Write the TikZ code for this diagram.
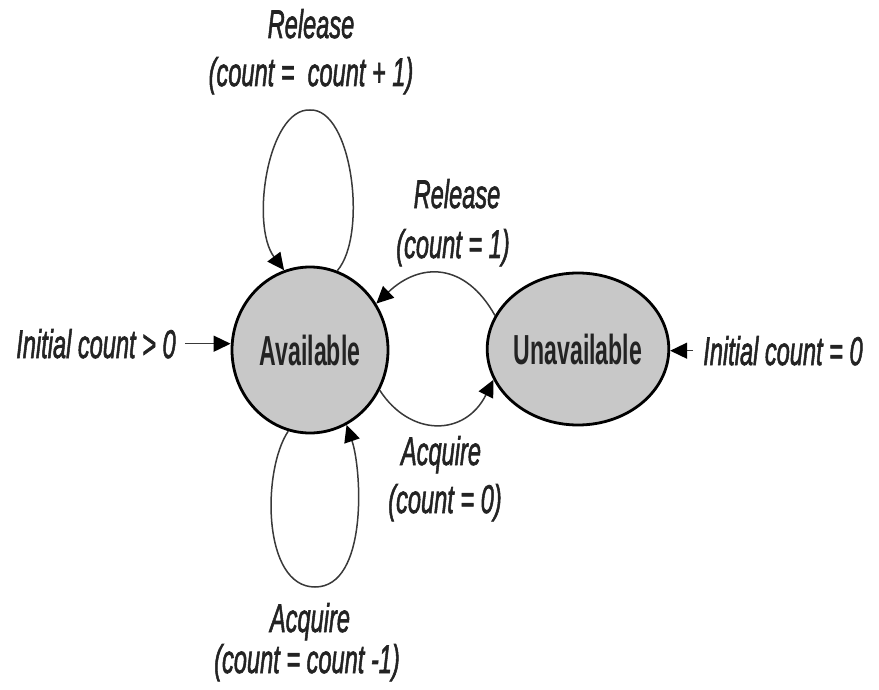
\documentclass[tikz,border=0pt]{standalone}
\usepackage{fontspec}
\setmainfont{Liberation Sans}
\newfontfamily\lblfont[FakeBold=2]{Liberation Sans}
\usetikzlibrary{shapes.geometric,arrows.meta}
\newcommand{\lsq}[1]{\scalebox{0.59}[1]{#1}}
\newcommand{\ssq}[1]{\scalebox{0.55}[1]{#1}}
\definecolor{stfill}{RGB}{200,200,200}
\definecolor{ink}{RGB}{35,35,35}
\begin{document}
\begin{tikzpicture}[x=1pt,y=-1pt,
  state/.style={ellipse, draw=black, line width=2.8pt, fill=stfill, inner sep=0pt,
    font=\fontsize{42}{48}\selectfont\bfseries, text=ink},
  lbl/.style={font=\fontsize{40}{48}\lblfont\itshape, text=ink, inner sep=0pt, anchor=base},
  arr/.style={draw=ink!90, line width=1.5pt, -{Triangle[length=17pt,width=16pt,color=black]}}]
\useasboundingbox (0,0) rectangle (879,690);
\node[state, minimum width=156pt, minimum height=166pt] (av) at (310,350) {\ssq{Available}};
\node[state, minimum width=160pt, minimum height=152pt] (un) at (578,349) {\ssq{Unavailable}};
\node[lbl] (tr1) at (311,38) {\lsq{Release}};
\node[lbl] (tr2) at (311,86) {\lsq{(count =\ \ count + 1)}};
\node[lbl] (mr1) at (457,208) {\lsq{Release}};
\node[lbl] (mr2) at (453,258) {\lsq{(count = 1)}};
\node[lbl] (ma1) at (441,465) {\lsq{Acquire}};
\node[lbl] (ma2) at (445,513) {\lsq{(count = 0)}};
\node[lbl] (ba1) at (310,632) {\lsq{Acquire}};
\node[lbl] (ba2) at (307,673) {\lsq{(count = count -1)}};
\node[lbl] (i1) at (96,358) {\lsq{Initial count > 0}};
\node[lbl] (i2) at (783,365) {\lsq{Initial count = 0}};
\coordinate (i1s) at ([xshift=9pt]i1.east);
\coordinate (i2s) at ([xshift=-10pt]i2.west);
\draw[arr] (i1s) -- (i1s -| av.west);
\draw[arr] (i2s) -- (i2s -| un.east);
\draw[arr] (av.71) .. controls (368,235) and (352,108) .. (310,110) .. controls (268,108) and (250,225) .. (av.108);
\draw[arr] (av.-105) .. controls (262,470) and (262,587) .. (315,587) .. controls (368,587) and (362,470) .. (av.-64);
\draw[arr] (un.158) .. controls (465,262) and (420,262) .. (av.35);
\draw[arr] (av.-30) .. controls (410,437) and (465,437) .. (un.200);
\end{tikzpicture}
\end{document}
